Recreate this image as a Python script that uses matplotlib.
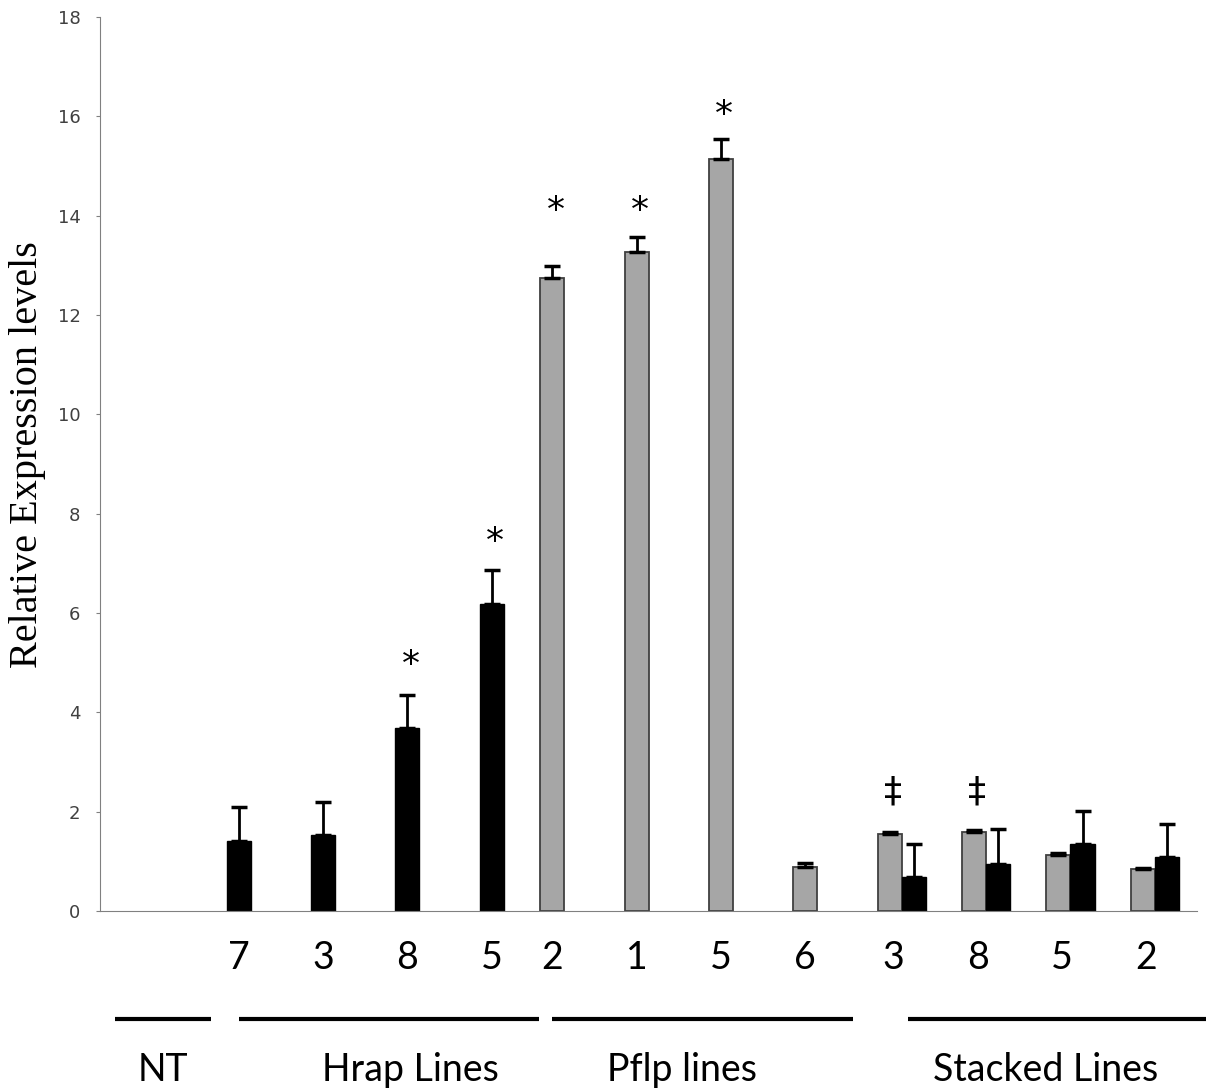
import numpy as np
import matplotlib.pyplot as plt
from matplotlib.transforms import blended_transform_factory

# line names under each slot (NT slot has no bars)
line_ids = ["", "7", "3", "8", "5", "2", "1", "5", "6", "3", "8", "5", "2"]

# grey series (Pflp / stacked), black series (Hrap / stacked)
grey_vals = [np.nan, np.nan, np.nan, np.nan, np.nan,
             12.75, 13.27, 15.14, 0.88, 1.54, 1.58, 1.12, 0.84]
grey_err = [0, 0, 0, 0, 0, 0.23, 0.30, 0.40, 0.09, 0.04, 0.05, 0.04, 0.03]
black_vals = [np.nan, 1.41, 1.52, 3.69, 6.18, np.nan, np.nan, np.nan, np.nan,
              0.69, 0.95, 1.35, 1.09]
black_err = [0, 0.68, 0.67, 0.66, 0.69, 0, 0, 0, 0, 0.66, 0.69, 0.67, 0.67]

# significance marks: (slot, series, symbol, height)
marks = [(3, "black", "*", 4.95), (4, "black", "*", 7.42),
         (5, "grey", "*", 14.1), (6, "grey", "*", 14.1), (7, "grey", "*", 16.03),
         (9, "grey", "\u2021", 2.41), (10, "grey", "\u2021", 2.41)]

groups = ["NT", "Hrap Lines", "Pflp lines", "Stacked Lines"]
group_spans = [(-0.32, 0.81), (1.15, 4.7), (4.86, 8.42), (9.08, 12.6)]
group_label_x = [0.25, 3.18, 6.4, 10.7]


def plot_chart():
    fig = plt.figure(figsize=(12.11, 10.89), dpi=100)
    ax = fig.add_axes([0.0826, 0.1635, 0.9059, 0.8209])

    x = np.arange(len(line_ids))
    w = 0.285
    gx = x - w / 2
    bx = x + w / 2

    ax.bar(gx, grey_vals, w, color="#a6a6a6", edgecolor="#404040", linewidth=1.3)
    ax.bar(bx, black_vals, w, color="black", edgecolor="black", linewidth=1)

    gv = np.array(grey_vals)
    bv = np.array(black_vals)
    ax.errorbar(gx, gv, yerr=[np.zeros(len(gv)), grey_err], fmt="none",
                ecolor="black", elinewidth=2, capsize=6, capthick=2.5)
    ax.errorbar(bx, bv, yerr=[np.zeros(len(bv)), black_err], fmt="none",
                ecolor="black", elinewidth=2, capsize=6, capthick=2.5)

    for slot, series, sym, h in marks:
        xx = gx[slot] if series == "grey" else bx[slot]
        ax.text(xx + 0.04, h, sym, ha="center", va="center", fontsize=26,
                family="DejaVu Sans")

    ax.set_xlim(-0.5, 12.5)
    ax.set_ylim(0, 18)
    ax.set_yticks(np.arange(0, 19, 2))
    ax.tick_params(axis="y", colors="#808080", labelcolor="#404040",
                   labelsize=13, length=3, direction="out", pad=11)
    ax.set_xticks([])
    for s in ["top", "right"]:
        ax.spines[s].set_visible(False)
    ax.spines["left"].set_color("#808080")
    ax.spines["bottom"].set_color("#808080")

    ax.set_ylabel("Relative Expression levels", family="Liberation Serif",
                  fontsize=29)
    ax.yaxis.set_label_coords(-0.049, 0.51)

    tr = blended_transform_factory(ax.transData, ax.transAxes)
    for i, lab in enumerate(line_ids):
        if not lab:
            continue
        pos = []
        if not np.isnan(gv[i]):
            pos.append(gx[i])
        if not np.isnan(bv[i]):
            pos.append(bx[i])
        cx = np.mean(pos)
        if len(pos) == 2:
            cx -= 0.1
        ax.text(cx, -0.0526, lab, transform=tr, ha="center", va="center",
                fontsize=27, family="Lato", clip_on=False)

    for name, (a, b), lx in zip(groups, group_spans, group_label_x):
        ax.plot([a, b], [-0.1208, -0.1208], color="black", lw=3,
                transform=tr, clip_on=False, solid_capstyle="butt")
        ax.text(lx, -0.178, name, transform=tr, ha="center", va="center",
                fontsize=27, family="Lato", clip_on=False)

    fig.savefig("out.png", dpi=100)


if __name__ == "__main__":
    plot_chart()
